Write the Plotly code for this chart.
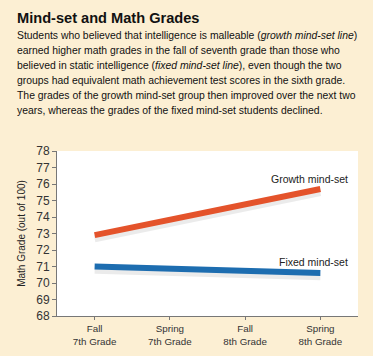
import plotly.graph_objects as go

categories = ["Fall<br>7th Grade", "Spring<br>7th Grade", "Fall<br>8th Grade", "Spring<br>8th Grade"]
growth = [72.9, 73.85, 74.8, 75.7]
fixed = [71.0, 70.85, 70.7, 70.6]
y_ticks = list(range(68, 79))

title = "Mind-set and Math Grades"
body_lines = [
    "Students who believed that intelligence is malleable (<i>growth mind-set line</i>)",
    "earned higher math grades in the fall of seventh grade than those who",
    "believed in static intelligence (<i>fixed mind-set line</i>), even though the two",
    "groups had equivalent math achievement test scores in the sixth grade.",
    "The grades of the growth mind-set group then improved over the next two",
    "years, whereas the grades of the fixed mind-set students declined.",
]

x_idx = list(range(len(categories)))
BG = "#FCEFD3"
FONT = "Liberation Sans"
W, H = 373, 356
ML, MR, MT, MB = 57, 15, 151, 40

fig = go.Figure()
# soft shadows
for vals in (growth, fixed):
    fig.add_trace(go.Scatter(x=x_idx, y=[v - 0.22 for v in vals], mode="lines",
                             line=dict(color="rgba(0,0,0,0.08)", width=7),
                             hoverinfo="skip", showlegend=False))
fig.add_trace(go.Scatter(x=x_idx, y=growth, mode="lines", name="Growth mind-set",
                         line=dict(color="#E4532B", width=6), showlegend=False))
fig.add_trace(go.Scatter(x=x_idx, y=fixed, mode="lines", name="Fixed mind-set",
                         line=dict(color="#1D6DB0", width=6), showlegend=False))

annots = [
    dict(x=x_idx[-1], y=growth[-1], xref="x", yref="y", text="Growth mind-set",
         showarrow=False, xanchor="right", yanchor="middle", xshift=30, yshift=10,
         font=dict(family=FONT, size=10.5, color="#222")),
    dict(x=x_idx[-1], y=fixed[-1], xref="x", yref="y", text="Fixed mind-set",
         showarrow=False, xanchor="right", yanchor="middle", xshift=30, yshift=11,
         font=dict(family=FONT, size=10.5, color="#222")),
    dict(x=0, y=0, xref="paper", yref="paper", text="<b>" + title + "</b>",
         showarrow=False, xanchor="left", yanchor="middle",
         font=dict(family=FONT, size=14.6, color="#111"),
         xshift=-ML + 15, yshift=H - MB - 18),
]
for i, line in enumerate(body_lines):
    annots.append(dict(x=0, y=0, xref="paper", yref="paper", text=line,
                       showarrow=False, xanchor="left", yanchor="middle",
                       font=dict(family=FONT, size=10.4, color="#111"),
                       xshift=-ML + 15, yshift=H - MB - 35 - 15 * i))
fig.layout.annotations = annots

fig.update_layout(
    width=W, height=H,
    margin=dict(l=ML, r=MR, t=MT, b=MB, autoexpand=False),
    paper_bgcolor=BG, plot_bgcolor="white",
    font=dict(family=FONT, color="#333"),
    xaxis=dict(range=[-0.5, 3.5], tickmode="array", tickvals=x_idx, ticktext=categories,
               showgrid=False, zeroline=False, showline=True, linecolor="#777", linewidth=1,
               ticks="outside", ticklen=3, tickcolor="#777",
               tickfont=dict(family=FONT, size=9.8, color="#333")),
    yaxis=dict(range=[68, 78], tickmode="array", tickvals=y_ticks,
               showgrid=False, zeroline=False, showline=True, linecolor="#777", linewidth=1,
               ticks="outside", ticklen=4, tickcolor="#777",
               tickfont=dict(family=FONT, size=12, color="#333"),
               title=dict(text="Math Grade (out of 100)", standoff=8,
                          font=dict(family=FONT, size=10, color="#222"))),
)

fig.write_html("out.html", config={"displayModeBar": False},
               post_script="document.body.style.margin='0';document.body.style.overflow='hidden';")
